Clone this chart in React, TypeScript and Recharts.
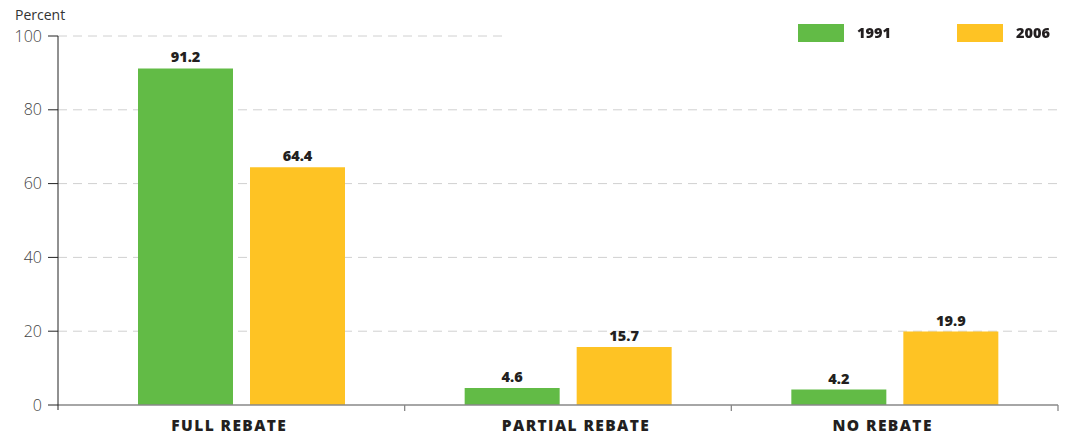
import React from "react";
import { BarChart, Bar, XAxis, YAxis, CartesianGrid, LabelList, Legend, ReferenceLine } from "recharts";

const categories = ["FULL REBATE", "PARTIAL REBATE", "NO REBATE"];
const values1991 = [91.2, 4.6, 4.2];
const values2006 = [64.4, 15.7, 19.9];
const yTicks = [0, 20, 40, 60, 80, 100];
const seriesNames = ["1991", "2006"];

const GREEN = "#62BB46";
const YELLOW = "#FEC324";

const data = categories.map((c, i) => ({ name: c, a: values1991[i], b: values2006[i] }));

const W = 1065;
const H = 436;
const PLOT_LEFT = 58;
const PLOT_RIGHT = 1058;
const PAD_LEFT = 20;
const BAND = (PLOT_RIGHT - PLOT_LEFT - PAD_LEFT) / categories.length;
const LABEL_SHIFT = [-12, 8, -12];

const XTick = (props: any) => {
  const { x, y, payload, index } = props;
  return (
    <g>
      <line x1={x + BAND / 2} x2={x + BAND / 2} y1={y} y2={y + 6} stroke="#888" strokeWidth={1.3} />
      {index === 0 && (
        <line x1={PLOT_LEFT} x2={PLOT_LEFT} y1={y} y2={y + 5} stroke="#222" strokeWidth={1} />
      )}
      <text
        x={x + (LABEL_SHIFT[index] || 0)}
        y={y + 26}
        textAnchor="middle"
        fontFamily="'Open Sans', sans-serif"
        fontWeight={800}
        fontSize={15.5}
        fill="#231F20"
        letterSpacing={1.4}
      >
        {payload.value}
      </text>
    </g>
  );
};

const LegendContent = (props: any) => {
  const { payload } = props;
  return (
    <div style={{ display: "flex", fontFamily: "'Open Sans', sans-serif", width: 270 }}>
      {(payload || []).map((p: any, i: number) => (
        <div key={i} style={{ display: "flex", alignItems: "center", width: 159, flexShrink: 0 }}>
          <div style={{ width: 46, height: 18, background: p.color, marginRight: 13, flexShrink: 0 }} />
          <span style={{ fontWeight: 800, fontSize: 14.5, color: "#231F20" }}>{p.value}</span>
        </div>
      ))}
    </div>
  );
};

const TopLine = (props: any) => {
  const { x1, y1 } = props;
  return <line x1={x1} x2={x1 + 448} y1={y1} y2={y1} stroke="#d0d0d0" strokeDasharray="9 6" strokeWidth={1} />;
};

export default function App() {
  return (
    <div style={{ position: "fixed", left: 0, top: 0, width: W, height: H, background: "#fff" }}>
      <div
        style={{
          position: "absolute",
          left: 15,
          top: 5,
          fontFamily: "'Open Sans', sans-serif",
          fontSize: 14,
          color: "#333",
        }}
      >
        Percent
      </div>
      <BarChart
        width={W}
        height={H}
        data={data}
        margin={{ top: 18, right: W - PLOT_RIGHT, bottom: 0, left: 8 }}
        barSize={95}
        barGap={17}
      >
        <CartesianGrid
          vertical={false}
          horizontalValues={[20, 40, 60, 80]}
          stroke="#d0d0d0"
          strokeDasharray="9 6"
        />
        <ReferenceLine y={100} shape={TopLine} />
        <XAxis
          dataKey="name"
          height={31}
          tickSize={0}
          tickMargin={0}
          tickLine={false}
          padding={{ left: PAD_LEFT, right: 0 }}
          axisLine={{ stroke: "#888", strokeWidth: 1.5 }}
          tick={<XTick />}
          interval={0}
        />
        <YAxis
          width={50}
          domain={[0, 100]}
          ticks={yTicks}
          interval={0}
          tickSize={10}
          tickMargin={6}
          axisLine={{ stroke: "#222", strokeWidth: 1 }}
          tickLine={{ stroke: "#222", strokeWidth: 1 }}
          tick={{ fontFamily: "'Open Sans', sans-serif", fontSize: 16, fill: "#444", fontWeight: 300 }}
        />
        <Legend
          verticalAlign="top"
          align="right"
          content={<LegendContent />}
          wrapperStyle={{ position: "absolute", top: 23, left: 798, width: 270, height: 18 }}
        />
        <Bar dataKey="a" name={seriesNames[0]} fill={GREEN} isAnimationActive={false}>
          <LabelList
            dataKey="a"
            position="top"
            offset={6}
            fill="#231F20"
            fontFamily="'Open Sans', sans-serif"
            fontWeight={800}
            fontSize={14.5}
          />
        </Bar>
        <Bar dataKey="b" name={seriesNames[1]} fill={YELLOW} isAnimationActive={false}>
          <LabelList
            dataKey="b"
            position="top"
            offset={6}
            fill="#231F20"
            fontFamily="'Open Sans', sans-serif"
            fontWeight={800}
            fontSize={14.5}
          />
        </Bar>
      </BarChart>
    </div>
  );
}
